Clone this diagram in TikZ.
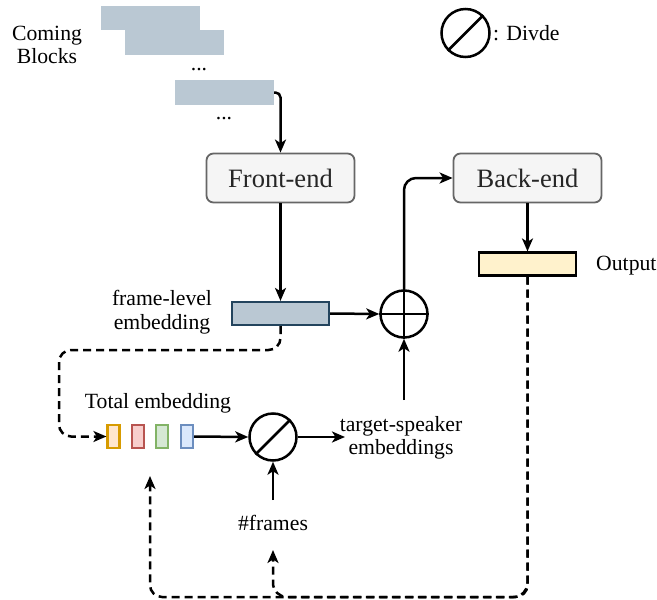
\documentclass[tikz,border=0pt]{standalone}
\usepackage{fontspec}
\setmainfont{Liberation Serif}
\usetikzlibrary{arrows.meta}
\definecolor{blockfill}{HTML}{BAC8D3}
\definecolor{blockdraw}{HTML}{23445D}
\definecolor{procfill}{HTML}{F5F5F5}
\definecolor{procdraw}{HTML}{666666}
\definecolor{outfill}{HTML}{FFF2CC}
\definecolor{ofill}{HTML}{FFE6CC}\definecolor{odraw}{HTML}{D79B00}
\definecolor{rfill}{HTML}{F8CECC}\definecolor{rdraw}{HTML}{B85450}
\definecolor{gfill}{HTML}{D5E8D4}\definecolor{gdraw}{HTML}{82B366}
\definecolor{bfill}{HTML}{DAE8FC}\definecolor{bdraw}{HTML}{6C8EBF}
\begin{document}
\begin{tikzpicture}[x=1pt,y=-1pt,
  lbl/.style={font=\fontsize{21.7}{23.5}\selectfont, align=center, inner sep=0pt},
  coming/.style={fill=blockfill, minimum width=99pt, minimum height=24.5pt, inner sep=0pt},
  proc/.style={draw=procdraw, fill=procfill, line width=1.8pt, rounded corners=7pt,
    minimum width=148pt, minimum height=49pt, inner sep=0pt, text=black!85,
    font=\fontsize{26.5}{28}\selectfont},
  bar/.style={draw=blockdraw, fill=blockfill, line width=2.2pt, minimum width=97pt, minimum height=23pt, inner sep=0pt},
  outbar/.style={draw=black, fill=outfill, line width=2.2pt, minimum width=97pt, minimum height=23pt, inner sep=0pt},
  tiny/.style={line width=2.2pt, minimum width=12pt, minimum height=23pt, inner sep=0pt},
  opcircle/.style={circle, draw=black, line width=2.5pt, minimum size=47pt, inner sep=0pt},
  conn/.style={line width=2.5pt, -{Stealth[length=13pt,width=11pt,inset=3.5pt]}},
  dconn/.style={conn, dash pattern=on 8pt off 5pt},
]
\useasboundingbox (0,0) rectangle (657,600);

% coming blocks
\node[coming] (c1) at (150.5,18) {};
\node[coming] (c2) at (174.5,42.5) {};
\node[coming] (c3) at (224.5,92.5) {};
\node[lbl, anchor=base] (d1) at (199,70) {...};
\node[lbl, anchor=base] (d2) at (224,119) {...};
\node[lbl] (comingl) at (47,45) {Coming\\Blocks};

% legend
\node[opcircle, minimum size=48pt] (leg) at (465.5,33) {};
\draw[line width=2.5pt] (leg.45) -- (leg.225);
\node[lbl, anchor=west] (legl) at (493,33) {: Divde};

% main blocks
\node[proc] (front) at (280.5,178) {Front-end};
\node[proc] (back) at (527.5,178) {Back-end};
\node[bar] (frame) at (280.5,313.5) {};
\node[lbl] (framel) at (162,312) {frame-level\\embedding};
\node[outbar] (out) at (527.5,264) {};
\node[lbl, anchor=west] (outl) at (596,266) {Output};
\node[opcircle] (plus) at (404,314) {};
\draw[line width=2.5pt] (plus.north) -- (plus.south) (plus.west) -- (plus.east);

% total embedding
\node[lbl] (totl) at (158,403) {Total embedding};
\node[tiny, draw=odraw, fill=ofill] (b1) at (113.5,436.5) {};
\node[tiny, draw=rdraw, fill=rfill] (b2) at (138,436.5) {};
\node[tiny, draw=gdraw, fill=gfill] (b3) at (162,436.5) {};
\node[tiny, draw=bdraw, fill=bfill] (b4) at (187,436.5) {};
\node[opcircle] (div) at (273,437) {};
\draw[line width=2.5pt] (div.45) -- (div.225);
\node[lbl] (tsl) at (401,438) {target-speaker\\embeddings};
\node[lbl] (frl) at (273,523) {\#frames};

\coordinate (tsend) at (345,437);
\coordinate (tsstart) at (404,400);
\coordinate (frstart) at (273,500);
\coordinate (fbend) at (150,476);
\coordinate (frend) at (273,550);

% connectors
\draw[conn, rounded corners=5pt] (c3.east) -| (front.north);
\draw[conn] (front.south) -- (frame.north);
\draw[conn] (frame.east) -- (plus.west);
\draw[conn, rounded corners=12pt] (plus.north) |- (back.west);
\draw[conn] (back.south) -- (out.north);
\draw[conn] (tsstart) -- (plus.south);
\draw[conn] (b4.east) -- (div.west);
\draw[conn] (div.east) -- (tsend);
\draw[conn] (frstart) -- (div.south);

\draw[dconn, rounded corners=12pt] (frame.south) |- (59,350) |- (b1.west);
\draw[dconn, rounded corners=12pt] (out.south) |- (150,597) -- (fbend);
\draw[dconn, rounded corners=14pt] (out.south) |- (273,597) -- (frend);
\end{tikzpicture}
\end{document}
